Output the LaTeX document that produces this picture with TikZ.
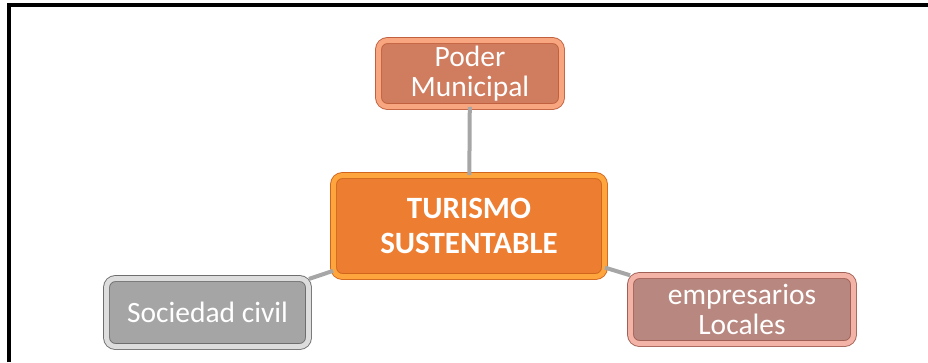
\documentclass[tikz,border=0pt]{standalone}
\usepackage{fontspec}
\setmainfont{Carlito}
\definecolor{gris}{HTML}{A6A6A6}
\tikzset{
  caja/.style={rounded corners=9pt,align=center,text=white,font=\fontsize{29.5}{30.5}\selectfont,
    line width=0.9pt,double distance=5pt,inner sep=0pt},
  enlace/.style={draw=gris,line width=4pt}
}
\begin{document}
\begin{tikzpicture}[x=1pt,y=-1pt]
	\useasboundingbox (0,0) rectangle (928,362);
	\draw[line width=4pt](9,362)--(9,5)--(928,5);
	% nodos
	\node[caja,fill={rgb,255:red,208;green,124;blue,95},draw={rgb,255:red,192;green,96;blue,62},
	  double={rgb,255:red,247;green,166;blue,127},minimum width=183pt,minimum height=66pt]
	  (poder) at (470,73.5) {Poder\\Municipal};
	\node[caja,fill={rgb,255:red,237;green,125;blue,49},draw={rgb,255:red,208;green,101;blue,28},
	  double={rgb,255:red,255;green,165;blue,62},minimum width=271pt,minimum height=101pt,
	  font=\bfseries\fontsize{31}{35}\selectfont]
	  (turismo) at (469,226) {TURISMO\\SUSTENTABLE};
	\node[caja,fill={rgb,255:red,165;green,165;blue,165},draw={rgb,255:red,110;green,110;blue,110},
	  double={rgb,255:red,221;green,221;blue,221},minimum width=202pt,minimum height=68pt]
	  (sociedad) at (207.5,312.5) {Sociedad civil};
	\node[caja,fill={rgb,255:red,184;green,136;blue,128},draw={rgb,255:red,160;green,96;blue,85},
	  double={rgb,255:red,243;green,179;blue,166},minimum width=223pt,minimum height=68pt]
	  (empresarios) at (742,309.5) {empresarios\\Locales};
	% enlaces
	\draw[enlace](poder)--(turismo);
	\draw[enlace](sociedad)--(turismo);
	\draw[enlace](empresarios)--(turismo);
\end{tikzpicture}
\end{document}
